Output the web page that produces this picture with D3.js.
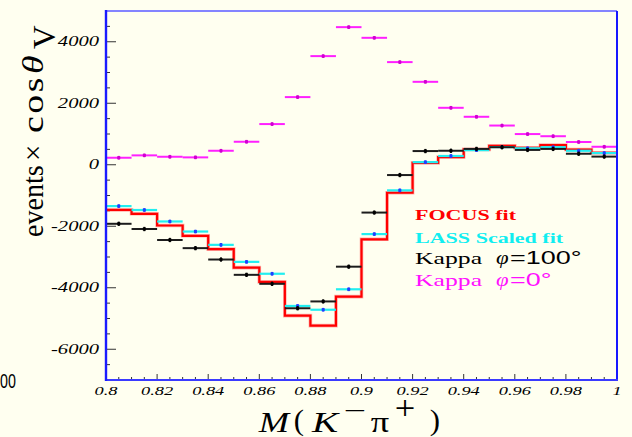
<!DOCTYPE html>
<html>
<head>
<meta charset="utf-8">
<script src="https://cdn.jsdelivr.net/npm/d3@7"></script>
<style>
  html, body { margin: 0; padding: 0; background: #fffff0; }
  svg { display: block; }
</style>
</head>
<body>
<div id="chart"></div>
<script>
// Lower edge of each K-pi mass bin (bin width 0.01 GeV)
const massBins = [0.80, 0.81, 0.82, 0.83, 0.84, 0.85, 0.86, 0.87, 0.88, 0.89,
                  0.90, 0.91, 0.92, 0.93, 0.94, 0.95, 0.96, 0.97, 0.98, 0.99];
const binWidth = 0.01;

// events x cos(theta_V) per bin
const focusFit   = [-1470, -1595, -1975, -2310, -2745, -3347, -3812, -4907, -5232, -4290,
                    -2425, -910, 60, 250, 500, 615, 553, 640, 495, 385];
const lassScaled = [-1345, -1472, -1845, -2172, -2605, -3158, -3545, -4592, -4715, -4050,
                    -2255, -833, 85, 285, 475, 575, 535, 570, 455, 380];
const kappa100   = [-1920, -2090, -2447, -2712, -3082, -3580, -3872, -4667, -4445, -3315,
                    -1555, -335, 445, 455, 515, 570, 482, 515, 358, 265];
const kappa0     = [228, 305, 260, 240, 455, 748, 1323, 2200, 3533, 4475,
                    4128, 3338, 2697, 1852, 1560, 1275, 998, 928, 740, 585];

// half-height of the statistical error bars
const lassErr = 60, kappa100Err = 70, kappa0Err = 60;

const xTicks = [0.8, 0.82, 0.84, 0.86, 0.88, 0.9, 0.92, 0.94, 0.96, 0.98, 1];
const xTickLabels = ["0.8", "0.82", "0.84", "0.86", "0.88", "0.9", "0.92", "0.94", "0.96", "0.98", "1"];
const yTicks = [-6000, -4000, -2000, 0, 2000, 4000];
const yTickLabels = ["-6000", "-4000", "-2000", "0", "2000", "4000"];

const W = 632, H = 437;
const plot = { left: 106, right: 617, top: 11, bottom: 380 };

const x = d3.scaleLinear().domain([0.8, 1.0]).range([plot.left, plot.right]);
const y = d3.scaleLinear().domain([-7000, 5000]).range([plot.bottom, plot.top]);

const svg = d3.select("#chart").append("svg")
  .attr("width", W).attr("height", H)
  .style("background", "#fffff0");

const SERIF = "'Liberation Serif', 'Times New Roman', 'DejaVu Serif', serif";
const SANS = "'Liberation Sans', Arial, 'DejaVu Sans', sans-serif";
const SX = 1.47; // horizontal stretch of the lettering

function label(parent, str, px, py, o) {
  const g = parent.append("g").attr("transform", `translate(${px},${py}) scale(${o.sx ?? SX},${o.sy ?? 1})`);
  return g.append("text")
    .attr("x", 0).attr("y", 0)
    .attr("text-anchor", o.anchor || "start")
    .style("font-family", o.family || SERIF)
    .style("font-size", (o.size || 14) + "px")
    .style("font-style", o.style || "normal")
    .style("font-weight", o.weight || "normal")
    .style("letter-spacing", (o.spacing || 0) + "px")
    .attr("fill", o.fill || "#000")
    .text(str);
}

// ---- minor / major tick marks (drawn inside the frame) ----
const ticksG = svg.append("g").attr("stroke", "#333").attr("stroke-width", 1);
const yMinor = d3.range(-7000, 5001, 500);
ticksG.selectAll("line.ym").data(yMinor).join("line")
  .attr("x1", plot.left).attr("x2", d => plot.left + (d % 2000 === 0 ? 10 : 4))
  .attr("y1", d => y(d)).attr("y2", d => y(d));
const xMinor = d3.range(0, 41).map(i => 0.8 + i * 0.005);
ticksG.selectAll("line.xm").data(xMinor).join("line")
  .attr("x1", d => x(d)).attr("x2", d => x(d))
  .attr("y1", plot.bottom)
  .attr("y2", (d, i) => plot.bottom - (i % 4 === 0 ? 6 : 3));

// ---- FOCUS fit: step histogram ----
const stepPts = massBins.map((m, i) => [m, focusFit[i]]);
stepPts.push([massBins[massBins.length - 1] + binWidth, focusFit[focusFit.length - 1]]);
const stepLine = d3.line().x(d => x(d[0])).y(d => y(d[1])).curve(d3.curveStepAfter);
svg.append("path").datum(stepPts)
  .attr("d", stepLine).attr("fill", "none")
  .attr("stroke", "#ff8080").attr("stroke-width", 3.6).attr("stroke-opacity", 0.6);
svg.append("path").datum(stepPts)
  .attr("d", stepLine).attr("fill", "none")
  .attr("stroke", "#ff0000").attr("stroke-width", 2.2);

// ---- data points with horizontal bin bars and vertical error bars ----
function points(vals, err, lineColor, dotColor, lw) {
  const g = svg.append("g");
  const d = vals.map((v, i) => ({ lo: massBins[i], v }));
  g.selectAll("line.h").data(d).join("line")
    .attr("x1", p => x(p.lo)).attr("x2", p => x(p.lo + binWidth))
    .attr("y1", p => y(p.v)).attr("y2", p => y(p.v))
    .attr("stroke", lineColor).attr("stroke-width", lw);
  g.selectAll("line.e").data(d).join("line")
    .attr("x1", p => x(p.lo + binWidth / 2)).attr("x2", p => x(p.lo + binWidth / 2))
    .attr("y1", p => y(p.v + err)).attr("y2", p => y(p.v - err))
    .attr("stroke", dotColor).attr("stroke-width", 2);
  g.selectAll("rect").data(d).join("rect")
    .attr("x", p => x(p.lo + binWidth / 2) - 1.5).attr("y", p => y(p.v) - 1.5)
    .attr("width", 3).attr("height", 3).attr("fill", dotColor);
}
points(lassScaled, lassErr, "#22eef0", "#2040ff", 2.2);
points(kappa100, kappa100Err, "#1c1c1c", "#000", 2);
points(kappa0, kappa0Err, "#ff20ff", "#d000d0", 2);

// ---- frame ----
svg.append("line").attr("x1", plot.left).attr("x2", plot.right).attr("y1", plot.top).attr("y2", plot.top)
  .attr("stroke", "#8484ff").attr("stroke-width", 2);
svg.append("line").attr("x1", plot.right).attr("x2", plot.right).attr("y1", plot.top).attr("y2", plot.bottom)
  .attr("stroke", "#1818ff").attr("stroke-width", 2);
svg.append("line").attr("x1", plot.left).attr("x2", plot.right + 1).attr("y1", plot.bottom).attr("y2", plot.bottom)
  .attr("stroke", "#3a3aff").attr("stroke-width", 2.2);
svg.append("line").attr("x1", plot.left).attr("x2", plot.left).attr("y1", plot.top - 1).attr("y2", plot.bottom + 1)
  .attr("stroke", "#1a1aff").attr("stroke-width", 2.4);

// ---- tick labels ----
yTicks.forEach((t, i) => {
  label(svg, yTickLabels[i], 99, y(t) + 4.7, { size: 14, style: "italic", anchor: "end" });
});
xTicks.forEach((t, i) => {
  label(svg, xTickLabels[i], x(t), 395, { size: 12.5, style: "italic", anchor: "middle" });
});

// ---- x axis title: M(K^- pi^+) ----
const xt = svg.append("g");
label(xt, "M", 274, 431.5, { size: 28, style: "italic", anchor: "middle", sx: 1.3, sy: 1.05 });
label(xt, "(", 299, 430, { size: 28, anchor: "middle", sx: 1.1, sy: 1.05 });
label(xt, "K", 325, 431.5, { size: 28, style: "italic", anchor: "middle", sx: 1.4, sy: 1.05 });
label(xt, "\u2212", 355, 417.5, { size: 22, anchor: "middle", sx: 1.8 });
label(xt, "\u03c0", 380, 431.5, { size: 28, anchor: "middle", sx: 1.3, sy: 1.05 });
label(xt, "+", 405, 419, { size: 26, anchor: "middle", sx: 1.4, sy: 1.3 });
label(xt, ")", 435, 430, { size: 28, anchor: "middle", sx: 1.1, sy: 1.05 });

// ---- y axis title: events x cos theta_V (rotated) ----
const yt = svg.append("g").attr("transform", "translate(43,237) rotate(-90)");
label(yt, "events", 0, 0, { size: 29, sx: 0.97 });
label(yt, "\u00d7", 76, 0, { size: 29, sx: 1.0 });
label(yt, "cos", 104, 0, { size: 29, sx: 1.3, spacing: 2 });
label(yt, "\u03b8", 163, 0, { size: 29, style: "italic", sx: 1.3 });
label(yt, "V", 188, 12, { size: 32, sx: 1.02 });

// ---- legend ----
const lg = svg.append("g");
label(lg, "FOCUS fit", 415, 220, { size: 15, weight: "bold", fill: "#ff0000" });
label(lg, "LASS Scaled fit", 415, 242.5, { size: 15, weight: "bold", fill: "#10eef0" });
label(lg, "Kappa", 415, 264, { size: 17.5, fill: "#000" });
label(lg, "\u03c6", 496, 264, { size: 19, style: "italic", fill: "#000", sx: 1.2 });
label(lg, "=100\u00b0", 510, 264, { size: 19, family: SANS, fill: "#000", sx: 1.42 });
label(lg, "Kappa", 415, 285.5, { size: 17.5, fill: "#ff10ff" });
label(lg, "\u03c6", 496, 285.5, { size: 19, style: "italic", fill: "#ff10ff", sx: 1.2 });
label(lg, "=0\u00b0", 510, 285.5, { size: 19, family: SANS, fill: "#ff10ff", sx: 1.42 });

// ---- short label at the lower-left border ----
label(svg, "00", 0, 388, { size: 21, family: SANS, anchor: "start", sx: 0.68 });
</script>
</body>
</html>
